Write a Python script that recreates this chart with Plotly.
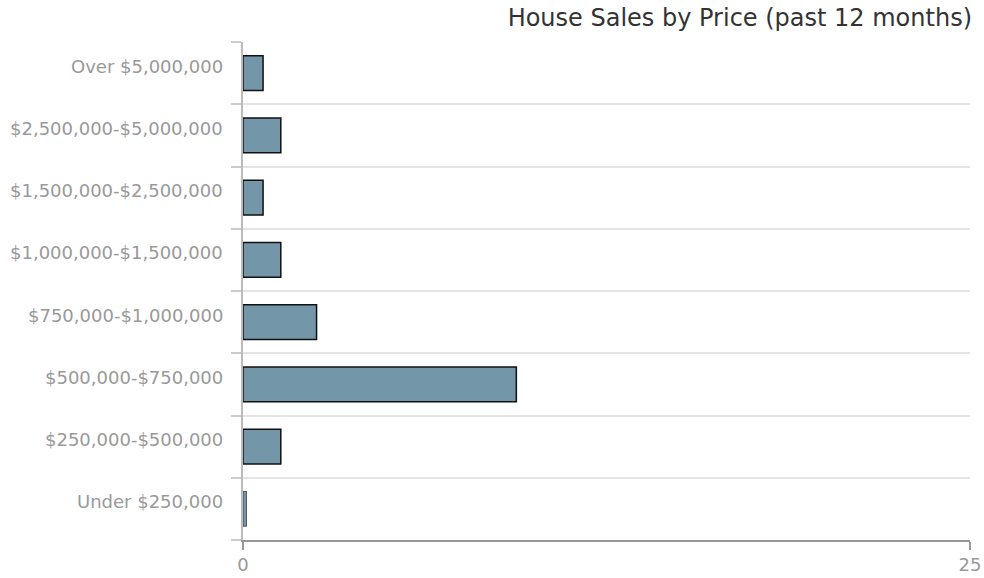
import plotly.graph_objects as go

categories = [
    "Under $250,000",
    "$250,000-$500,000",
    "$500,000-$750,000",
    "$750,000-$1,000,000",
    "$1,000,000-$1,500,000",
    "$1,500,000-$2,500,000",
    "$2,500,000-$5,000,000",
    "Over $5,000,000",
]
values = [0.12, 1.3, 9.4, 2.53, 1.3, 0.69, 1.3, 0.69]
x_tick_vals = [0, 25]
x_tick_text = ["0", "25"]

line_widths = [1.5 if v > 0.3 else 0.6 for v in values]

fig = go.Figure(
    go.Bar(
        x=values,
        y=categories,
        orientation="h",
        width=0.56,
        marker=dict(color="#7396a9", line=dict(color="#111111", width=line_widths)),
    )
)

label_font = dict(family="DejaVu Sans", size=18, color="#999999")
for cat in categories:
    fig.add_annotation(
        x=0,
        xref="paper",
        y=cat,
        yref="y",
        text=cat,
        showarrow=False,
        xanchor="right",
        yanchor="middle",
        xshift=-18,
        yshift=7,
        font=label_font,
    )

fig.update_layout(
    width=984,
    height=578,
    margin=dict(l=243, r=14, t=42, b=38, autoexpand=False),
    paper_bgcolor="white",
    plot_bgcolor="white",
    font=dict(family="DejaVu Sans", size=18, color="#999999"),
    showlegend=False,
    title=dict(
        text="House Sales by Price (past 12 months)",
        x=972 / 984,
        xref="container",
        xanchor="right",
        y=1 - 18 / 578,
        yref="container",
        yanchor="middle",
        font=dict(family="DejaVu Sans", size=24, color="#333333"),
    ),
)

fig.update_xaxes(
    range=[0, 25],
    tickvals=x_tick_vals,
    ticktext=x_tick_text,
    showgrid=True,
    gridcolor="#e4e4e4",
    gridwidth=1.5,
    zeroline=False,
    showline=True,
    linecolor="#999999",
    linewidth=1.5,
    ticks="outside",
    ticklen=8,
    tickcolor="#999999",
    tickwidth=1.5,
    tickfont=dict(size=18, color="#999999"),
    automargin=False,
    fixedrange=True,
)

fig.update_yaxes(
    categoryorder="array",
    categoryarray=categories,
    tickson="boundaries",
    showgrid=True,
    gridcolor="#e4e4e4",
    gridwidth=1.5,
    showline=True,
    linecolor="#bbbbbb",
    linewidth=2,
    ticks="outside",
    ticklen=10,
    tickcolor="#cccccc",
    tickwidth=1.5,
    showticklabels=False,
    automargin=False,
    fixedrange=True,
)

fig.write_html(
    "out.html",
    config={"displayModeBar": False},
    post_script="document.body.style.margin='0';document.body.style.overflow='hidden';",
)
